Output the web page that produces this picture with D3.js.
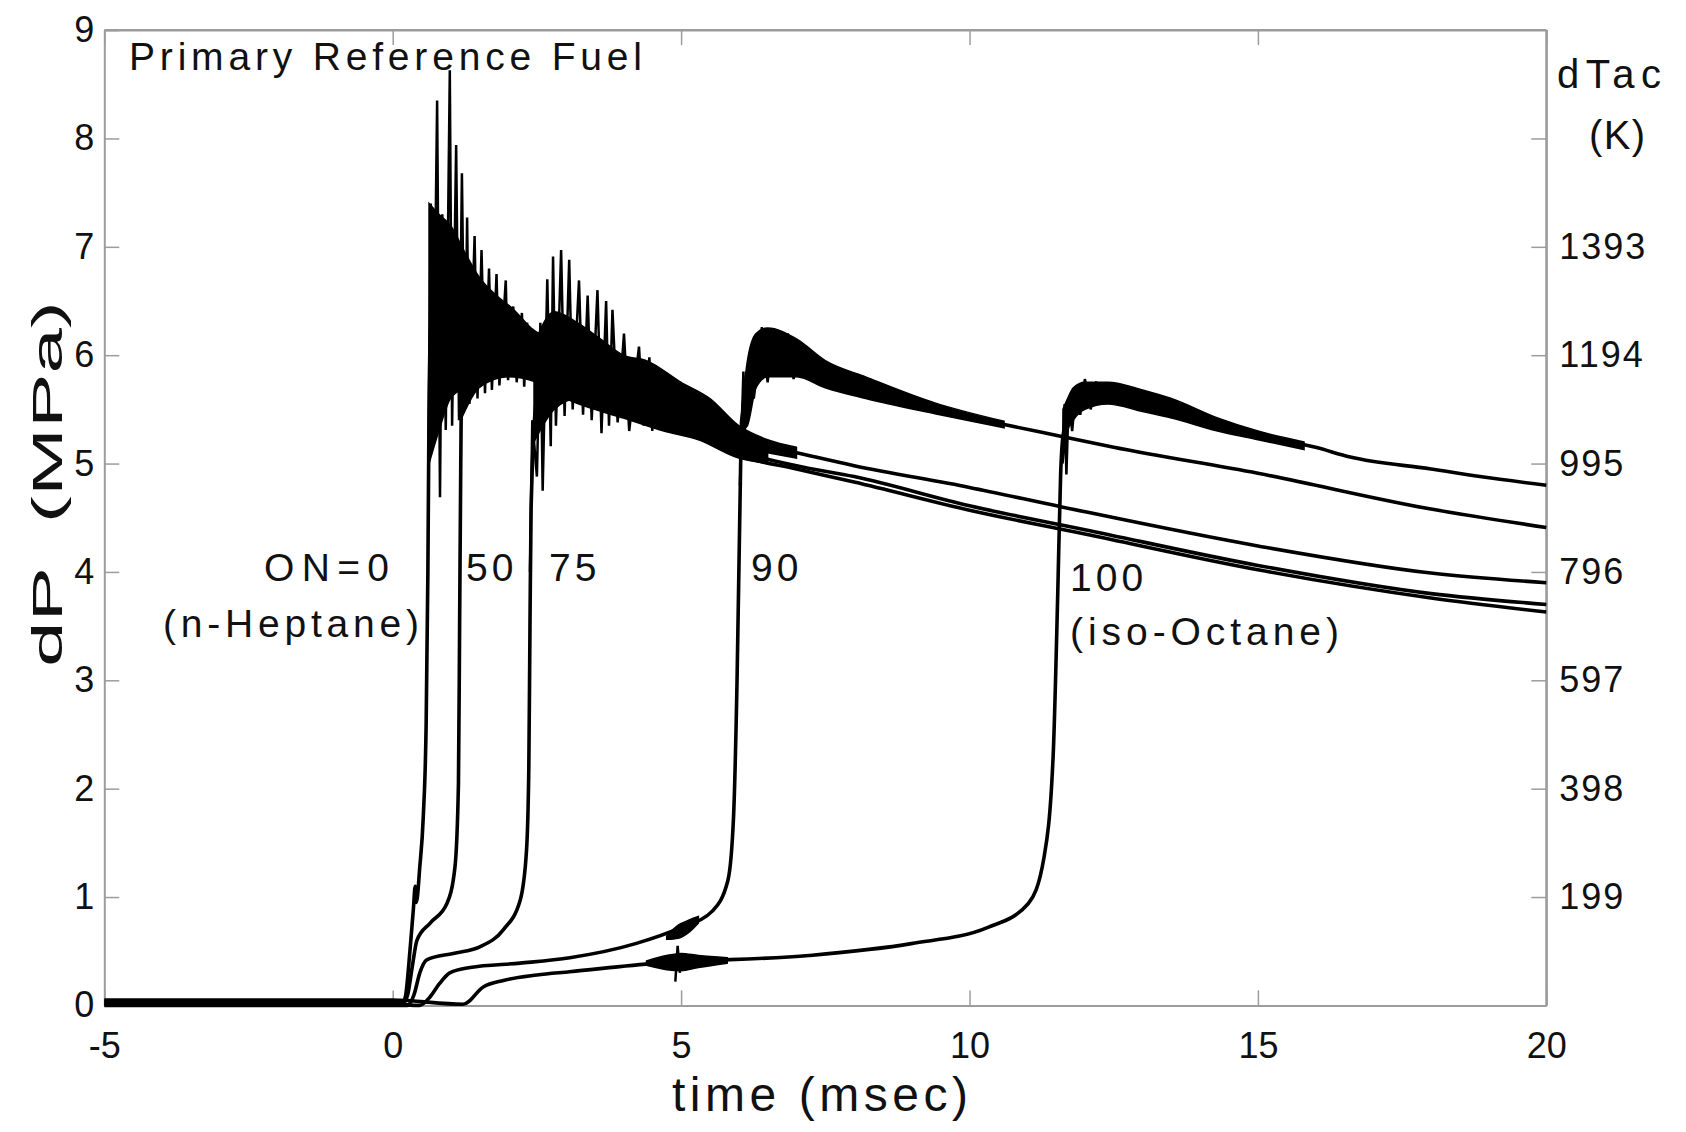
<!DOCTYPE html>
<html>
<head>
<meta charset="utf-8">
<script src="https://cdn.jsdelivr.net/npm/d3@7"></script>
<style>
  html, body { margin: 0; padding: 0; background: #fff; }
  text { font-family: "Liberation Sans", Arial, Helvetica, sans-serif; fill: #111; }
</style>
</head>
<body>
<div id="chart"></div>
<script>
// ticks
const xTicks = [-5, 0, 5, 10, 15, 20];
const yTicks = [0, 1, 2, 3, 4, 5, 6, 7, 8, 9];
const dTacTicks = [1, 2, 3, 4, 5, 6, 7, 8];
const dTacLabels = ["199", "398", "597", "796", "995", "1194", "1393", ""];

// traces [time ms, dP MPa]
const on0Trace = [[-5, 0.02], [0, 0.02], [0.17, 0.02], [0.22, 0.08], [0.3, 0.51], [0.36, 0.9], [0.39, 1.1], [0.41, 0.95],
  [0.47, 1.28], [0.53, 1.74], [0.58, 2.6], [0.61, 4.0], [0.63, 5.5], [0.66, 6.3], [1.0, 6.4], [1.5, 6.25], [2.0, 6.1],
  [2.5, 5.98], [3, 5.85], [4, 5.6], [5, 5.38], [6, 5.08], [7, 4.95], [8, 4.83], [10, 4.57], [12, 4.35],
  [15, 4.02], [18, 3.76], [20, 3.63]];
const on0Band = [[0.63, 5.0, 7.4], [0.8, 5.3, 7.3], [1.0, 5.6, 7.2], [1.25, 5.7, 6.95], [1.5, 5.77, 6.72],
  [1.8, 5.82, 6.55], [2.1, 5.86, 6.42], [2.4, 5.8, 6.25], [3.0, 5.6, 6.1], [3.5, 5.5, 5.95], [4.0, 5.42, 5.82],
  [4.7, 5.3, 5.65], [5.3, 5.22, 5.5], [6.0, 5.05, 5.22], [6.5, 5.0, 5.1]];
const on0Spikes = [[0.62, 5.0], [0.66, 7.4], [0.7, 5.19], [0.77, 8.35], [0.82, 4.69], [0.86, 7.3], [0.92, 5.31],
  [0.99, 8.63], [1.03, 5.35], [1.1, 7.94], [1.15, 5.4], [1.2, 7.68], [1.25, 5.5], [1.29, 7.27], [1.33, 5.55],
  [1.42, 7.1], [1.47, 5.6], [1.54, 6.97], [1.6, 5.65], [1.67, 6.8], [1.72, 5.68], [1.8, 6.75], [1.85, 5.72],
  [1.96, 6.69], [2.0, 5.77], [2.09, 6.45], [2.15, 5.75], [2.24, 6.39], [2.28, 5.71], [2.33, 6.3], [2.38, 5.8]];

const on50Trace = [[-5, 0.04], [0, 0.04], [0.2, 0.03], [0.26, 0.1], [0.34, 0.36], [0.42, 0.6], [0.65, 0.76],
  [0.94, 0.94], [1.08, 1.28], [1.14, 2.05], [1.16, 3.5], [1.18, 5.0], [1.2, 5.9], [1.5, 6.2], [2, 6.05],
  [2.5, 5.95], [3, 5.85], [4, 5.62], [5, 5.4], [6, 5.12], [7, 4.98], [8, 4.88], [10, 4.61], [12, 4.39],
  [15, 4.06], [18, 3.8], [20, 3.7]];
const on50Band = [[1.18, 5.4, 7.0], [1.5, 5.7, 6.7], [2.0, 5.8, 6.4], [2.5, 5.75, 6.2], [3.0, 5.62, 6.08],
  [4.0, 5.45, 5.8], [5.0, 5.3, 5.55], [6.0, 5.08, 5.2]];

const on75Trace = [[-5, 0.0], [0, 0.0], [0.25, 0.0], [0.37, 0.1], [0.47, 0.3], [0.59, 0.42], [1.05, 0.48],
  [1.51, 0.54], [1.92, 0.7], [2.21, 0.97], [2.32, 1.43], [2.36, 2.2], [2.38, 3.5], [2.4, 4.6], [2.5, 5.6],
  [3, 5.9], [4, 5.75], [5, 5.55], [6, 5.22], [7, 5.1], [8, 4.98], [10, 4.78], [11.6, 4.6], [15, 4.24],
  [18, 3.99], [20, 3.9]];
const on75Band = [[2.45, 5.2, 6.1], [2.8, 5.5, 6.4], [3.2, 5.6, 6.3], [3.6, 5.55, 6.15], [4.0, 5.5, 6.0],
  [4.4, 5.46, 5.95], [5.0, 5.35, 5.75], [5.5, 5.28, 5.6], [6.0, 5.15, 5.35], [6.5, 5.1, 5.22], [7.0, 5.05, 5.15]];
const on75Spikes = [[2.38, 4.0], [2.42, 5.4], [2.5, 4.88], [2.56, 6.3], [2.6, 4.75], [2.68, 6.7], [2.74, 5.16],
  [2.78, 6.91], [2.83, 5.35], [2.92, 6.97], [2.98, 5.44], [3.06, 6.88], [3.12, 5.5], [3.23, 6.69], [3.3, 5.45],
  [3.38, 6.55], [3.45, 5.4], [3.55, 6.6], [3.62, 5.28], [3.7, 6.5], [3.75, 5.35], [3.81, 6.42], [3.9, 5.38],
  [4.01, 6.2], [4.1, 5.3], [4.27, 6.08], [4.35, 5.35], [4.45, 5.98], [4.5, 5.3], [4.56, 5.89], [4.7, 5.35],
  [4.85, 5.77], [5.0, 5.3], [5.2, 5.68], [5.33, 5.25]];

const on90Trace = [[-5, 0.01], [0, 0.01], [0.47, 0.0], [0.65, 0.08], [0.81, 0.2], [0.99, 0.3], [1.34, 0.35],
  [2.21, 0.39], [3.07, 0.44], [4.21, 0.57], [5.0, 0.72], [5.54, 0.87], [5.81, 1.15], [5.91, 1.75], [5.97, 3.0],
  [6.02, 4.6], [6.05, 5.4], [6.2, 5.75], [6.5, 6.0], [7, 5.98], [7.5, 5.83], [8.2, 5.7], [9.4, 5.5],
  [10.6, 5.36], [11.6, 5.25], [12.5, 5.15], [15, 4.91], [18, 4.58], [20, 4.41]];
const on90Band = [[4.75, 0.61, 0.64], [4.95, 0.62, 0.74], [5.15, 0.68, 0.79], [5.3, 0.76, 0.82]];
const on90Knock = [[6.05, 5.3, 5.5], [6.15, 5.35, 5.95], [6.3, 5.7, 6.2], [6.5, 5.8, 6.25], [7.0, 5.8, 6.15],
  [7.5, 5.7, 5.95], [8.2, 5.6, 5.8], [9.4, 5.46, 5.56], [10.6, 5.33, 5.39]];
const on90Spikes = [[6.02, 4.8], [6.08, 5.85], [6.12, 5.35], [6.2, 6.05], [6.26, 5.6], [6.4, 6.26], [6.5, 5.75],
  [6.6, 6.22], [6.7, 5.8], [6.85, 6.2], [6.95, 5.78], [7.1, 6.1]];

const on100Trace = [[-5, 0.05], [0, 0.05], [1.22, 0.01], [1.57, 0.17], [1.92, 0.23], [2.5, 0.28], [3.07, 0.31],
  [4.57, 0.39], [7.22, 0.46], [8.99, 0.57], [10.32, 0.72], [11.02, 0.94], [11.29, 1.36], [11.45, 2.3],
  [11.53, 3.8], [11.58, 4.9], [11.62, 5.25], [11.75, 5.5], [12, 5.62], [12.5, 5.65], [13, 5.57], [13.5, 5.5],
  [14.3, 5.36], [15, 5.26], [16, 5.15], [16.6, 5.06], [18, 4.95], [18.85, 4.88], [20, 4.8]];
const on100Band = [[4.4, 0.37, 0.41], [4.75, 0.33, 0.46], [5.0, 0.32, 0.48], [5.3, 0.35, 0.46], [5.8, 0.39, 0.44]];
const on100Blip = [[4.9, 0.22], [4.94, 0.55], [4.98, 0.3]];
const on100Knock = [[11.62, 5.0, 5.5], [11.7, 5.3, 5.6], [11.8, 5.4, 5.7], [12.0, 5.5, 5.75], [12.4, 5.55, 5.75],
  [13.0, 5.48, 5.68], [13.5, 5.42, 5.6], [14.3, 5.3, 5.42], [15.0, 5.22, 5.3], [15.8, 5.13, 5.2]];
const on100Spikes = [[11.6, 5.0], [11.65, 5.55], [11.68, 4.9], [11.72, 5.6], [11.78, 5.3], [11.85, 5.72],
  [11.92, 5.45], [12.0, 5.78], [12.1, 5.5], [12.2, 5.76]];

const onLabels = ["ON=0", "(n-Heptane)", "50", "75", "90", "100", "(iso-Octane)"];

// layout
const width = 1686, height = 1132;
const margin = { left: 104.3, right: 1686 - 1546.3, top: 30.1, bottom: 1132 - 1005.4 };

const svg = d3.select("#chart").append("svg")
  .attr("width", width)
  .attr("height", height)
  .style("display", "block");

const x = d3.scaleLinear().domain([-5, 20]).range([margin.left, width - margin.right]);
const y = d3.scaleLinear().domain([0, 9]).range([height - margin.bottom, margin.top]);

const frameColor = "#9c9c9c";

// axes, ticks pointing inward
const styleAxis = g => {
  g.selectAll(".domain").attr("stroke", frameColor).attr("stroke-width", 2);
  g.selectAll(".tick line").attr("stroke", frameColor).attr("stroke-width", 1.5);
  g.selectAll(".tick text").style("font-size", "36px").attr("fill", "#111");
};

svg.append("g")
  .attr("transform", `translate(0,${y(0)})`)
  .call(d3.axisBottom(x).tickValues(xTicks).tickSize(-15).tickSizeOuter(0).tickPadding(27).tickFormat(d3.format("d")))
  .call(styleAxis)
  .call(g => g.selectAll(".tick text").text(d => d < 0 ? "-" + Math.abs(d) : d));

svg.append("g")
  .attr("transform", `translate(0,${y(9)})`)
  .call(d3.axisTop(x).tickValues(xTicks).tickSize(-15).tickSizeOuter(0).tickFormat(""))
  .call(styleAxis);

svg.append("g")
  .attr("transform", `translate(${x(-5)},0)`)
  .call(d3.axisLeft(y).tickValues(yTicks).tickSize(-15).tickSizeOuter(0).tickPadding(10))
  .call(styleAxis);

svg.append("g")
  .attr("transform", `translate(${x(20)},0)`)
  .call(d3.axisRight(y).tickValues(dTacTicks).tickSize(-15).tickSizeOuter(0).tickPadding(13)
    .tickFormat((d, i) => dTacLabels[i]))
  .call(styleAxis)
  .call(g => g.selectAll(".tick text").style("letter-spacing", "2px"));

// close the box on the right / top edges
svg.append("line")
  .attr("x1", x(20)).attr("x2", x(20)).attr("y1", y(0)).attr("y2", y(9))
  .attr("stroke", frameColor).attr("stroke-width", 2);
svg.append("line")
  .attr("x1", x(-5)).attr("x2", x(20)).attr("y1", y(9)).attr("y2", y(9))
  .attr("stroke", frameColor).attr("stroke-width", 2);

// series
const line = d3.line().x(d => x(d[0])).y(d => y(d[1]));
const smooth = d3.line().x(d => x(d[0])).y(d => y(d[1])).curve(d3.curveMonotoneX);
const area = d3.area().x(d => x(d[0])).y0(d => y(d[1])).y1(d => y(d[2])).curve(d3.curveMonotoneX);

const plot = svg.append("g");

const bands = [on0Band, on50Band, on75Band, on90Band, on90Knock, on100Band, on100Knock];
plot.selectAll(".band")
  .data(bands)
  .enter().append("path")
  .attr("class", "band")
  .attr("d", area)
  .attr("fill", "#000")
  .attr("stroke", "#000")
  .attr("stroke-width", 1.5);

const spikes = [on0Spikes, on75Spikes, on90Spikes, on100Spikes, on100Blip];
plot.selectAll(".spikes")
  .data(spikes)
  .enter().append("path")
  .attr("class", "spikes")
  .attr("d", line)
  .attr("fill", "none")
  .attr("stroke", "#000")
  .attr("stroke-width", 2.5)
  .attr("stroke-linejoin", "miter");

const traces = [on0Trace, on50Trace, on75Trace, on90Trace, on100Trace];
plot.selectAll(".trace")
  .data(traces)
  .enter().append("path")
  .attr("class", "trace")
  .attr("d", smooth)
  .attr("fill", "none")
  .attr("stroke", "#000")
  .attr("stroke-width", 3.6)
  .attr("stroke-linejoin", "round");

// text
svg.append("text")
  .attr("x", 129).attr("y", 70)
  .attr("textLength", 513).attr("lengthAdjust", "spacing")
  .style("font-size", "39px")
  .text("Primary Reference Fuel");

svg.append("text")
  .attr("x", 672).attr("y", 1111)
  .attr("textLength", 296).attr("lengthAdjust", "spacing")
  .style("font-size", "48px")
  .text("time (msec)");

svg.append("text")
  .attr("transform", "translate(62,667) rotate(-90)")
  .attr("textLength", 366).attr("lengthAdjust", "spacingAndGlyphs")
  .style("font-size", "42px")
  .attr("xml:space", "preserve")
  .text("dP  (MPa)");

svg.append("text")
  .attr("x", 1557).attr("y", 88)
  .attr("textLength", 104).attr("lengthAdjust", "spacing")
  .style("font-size", "40px")
  .text("dTac");
svg.append("text")
  .attr("x", 1589).attr("y", 149)
  .attr("textLength", 56).attr("lengthAdjust", "spacing")
  .style("font-size", "40px")
  .text("(K)");

// curve annotations: [label index, x px, baseline px, text length px]
const annot = [[0, 264, 581, 125], [1, 163, 637, 256], [2, 466, 581, 0], [3, 549, 581, 0],
  [4, 751, 581, 0], [5, 1070, 591, 0], [6, 1070, 645, 269]];
svg.selectAll(".annot")
  .data(annot)
  .enter().append("text")
  .attr("class", "annot")
  .attr("x", d => d[1]).attr("y", d => d[2])
  .attr("textLength", d => d[3] > 0 ? d[3] : null)
  .attr("lengthAdjust", "spacing")
  .style("letter-spacing", d => d[3] > 0 ? null : "4px")
  .style("font-size", "39px")
  .text(d => onLabels[d[0]]);
</script>
</body>
</html>
